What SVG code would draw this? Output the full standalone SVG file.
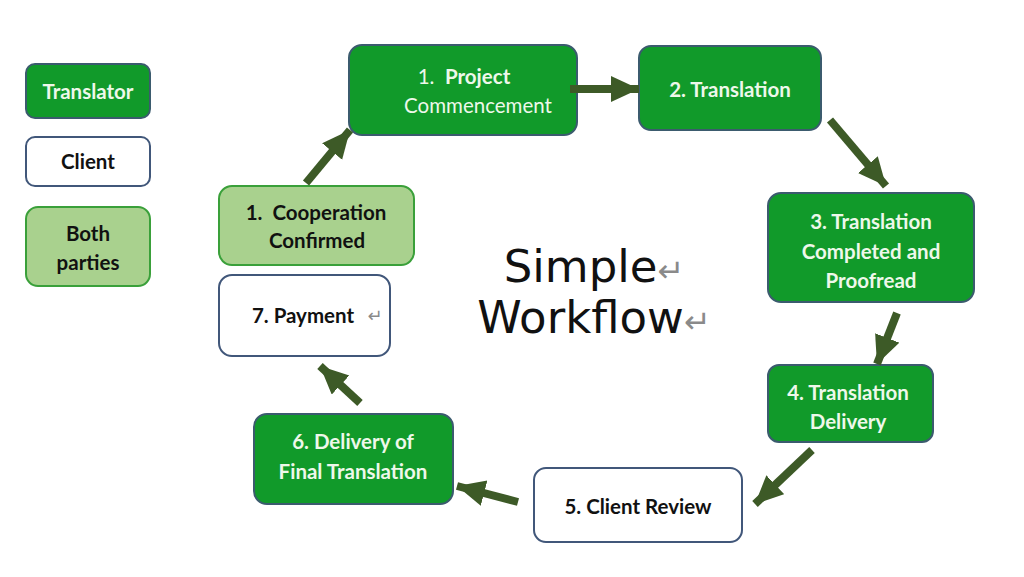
<svg xmlns="http://www.w3.org/2000/svg" width="1024" height="577" viewBox="0 0 1024 577">
<style>
.tr{fill:#119a2a;stroke:#3b5b6e;stroke-width:2}
.cl{fill:#ffffff;stroke:#41577a;stroke-width:2}
.bo{fill:#a9d18e;stroke:#3aa03a;stroke-width:2}
.t{font-family:Lato,"Liberation Sans",sans-serif;font-weight:bold;font-size:20.5px;text-anchor:middle}
.w{fill:#eef8ea}
.k{fill:#111111}
.n{font-weight:normal}
.ret{fill:#8a8a8a;font-family:"DejaVu Sans",sans-serif;font-weight:normal}
.big{font-family:"DejaVu Sans",sans-serif;font-size:45px;fill:#111;text-anchor:middle}
.ar{stroke:#3d5a27;stroke-width:8;fill:none;marker-end:url(#h)}
</style>
<defs>
<marker id="h" markerUnits="userSpaceOnUse" markerWidth="30" markerHeight="28" refX="28" refY="13" orient="auto">
<path d="M0,0 L28,13 L0,26 Z" fill="#3d5a27"/>
</marker>
</defs>
<rect width="1024" height="577" fill="#ffffff"/>
<g id="legend-translator"><rect class="tr" x="26" y="64" width="124" height="54" rx="9"/><text class="t w" x="88" y="99">Translator</text></g>
<g id="legend-client"><rect class="cl" x="26" y="137" width="124" height="49" rx="9"/><text class="t k" x="88" y="169">Client</text></g>
<g id="legend-both"><rect class="bo" x="26" y="207" width="124" height="79" rx="12"/><text class="t k" x="88" y="241">Both</text><text class="t k" x="88" y="270">parties</text></g>
<g id="title"><text class="big" x="594" y="282">Simple<tspan class="ret" font-size="32">↵</tspan></text><text class="big" x="594" y="333">Workflow<tspan class="ret" font-size="32">↵</tspan></text></g>
<g id="n1"><rect class="tr" x="349" y="45" width="228" height="90" rx="13"/><text class="t w" x="464" y="84" xml:space="preserve"><tspan class="n">1.  </tspan>Project</text><text class="t w n" x="478" y="113" font-size="21.5">Commencement</text></g>
<g id="n2"><rect class="tr" x="639" y="46" width="182" height="84" rx="12"/><text class="t w" x="730" y="97">2. Translation</text></g>
<g id="n3"><rect class="tr" x="768" y="193" width="206" height="109" rx="13"/><text class="t w" x="871" y="229">3. Translation</text><text class="t w" x="871" y="259">Completed and</text><text class="t w" x="871" y="288">Proofread</text></g>
<g id="n4"><rect class="tr" x="768" y="365" width="165" height="77" rx="11"/><text class="t w" x="848" y="400">4. Translation</text><text class="t w" x="848" y="429">Delivery</text></g>
<g id="n5"><rect class="cl" x="534" y="468" width="208" height="74" rx="12"/><text class="t k" x="638" y="514">5. Client Review</text></g>
<g id="n6"><rect class="tr" x="254" y="414" width="199" height="90" rx="13"/><text class="t w" x="353" y="449">6. Delivery of</text><text class="t w" x="353" y="479">Final Translation</text></g>
<g id="n7"><rect class="cl" x="219" y="275" width="171" height="81" rx="13"/><text class="t k" x="303" y="323">7. Payment</text><text class="ret" x="375" y="322" font-size="18" text-anchor="middle">↵</text></g>
<g id="n0"><rect class="bo" x="219" y="186" width="195" height="79" rx="13"/><text class="t k" x="316" y="220" xml:space="preserve">1.  Cooperation</text><text class="t k" x="317" y="248">Confirmed</text></g>
<g id="connectors">
<line class="ar" x1="570" y1="89" x2="639" y2="89"/>
<line class="ar" x1="830" y1="120" x2="886" y2="186"/>
<line class="ar" x1="897" y1="313" x2="877" y2="364"/>
<line class="ar" x1="812" y1="450" x2="755" y2="504"/>
<line class="ar" x1="518" y1="502" x2="457" y2="486"/>
<line class="ar" x1="360" y1="403" x2="320" y2="366"/>
<line class="ar" x1="306" y1="183" x2="350" y2="130"/>
</g>
</svg>
